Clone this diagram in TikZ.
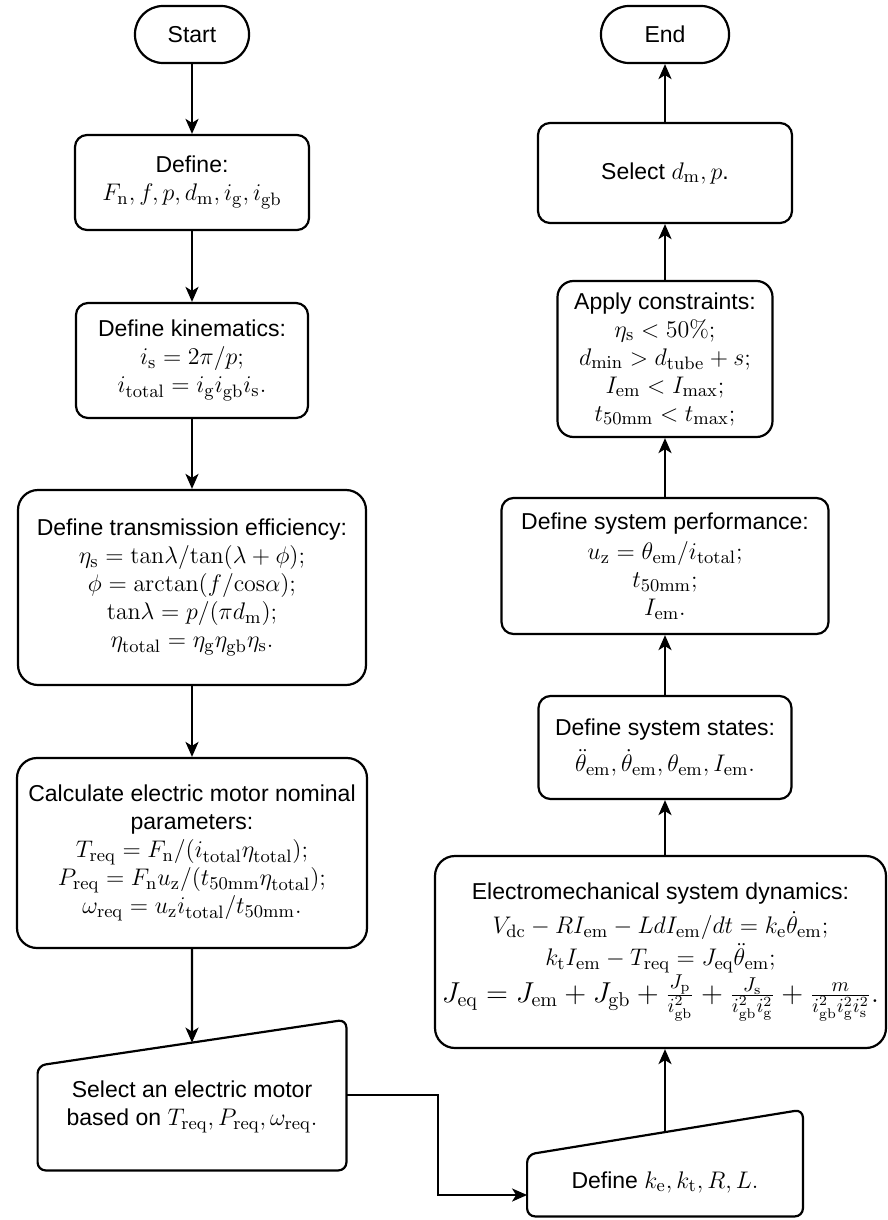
\documentclass[tikz,border=0pt]{standalone}
\usepackage[no-math]{fontspec}
\setmainfont{Liberation Sans}[Scale=0.885]
\usetikzlibrary{arrows.meta,calc}

\tikzset{
  box/.style={draw, line width=1.1pt, rounded corners=6pt, align=center, inner sep=0pt, font=\fontsize{13pt}{14pt}\selectfont},
  bigbox/.style={box, rounded corners=10pt},
  term/.style={box, rounded corners=14pt},
  inshape/.style={inner sep=0pt},
  txt/.style={align=center, inner sep=0pt, font=\fontsize{13pt}{14pt}\selectfont},
  arr/.style={line width=1.1pt, -{Stealth[length=7.5pt,width=6.5pt,inset=2pt]}},
}

\begin{document}
\begin{tikzpicture}[x=0.5pt,y=-0.5pt]
\useasboundingbox (0,0) rectangle (888,1220);
\node[term, minimum width=57pt, minimum height=28.5pt] (start) at (192,34.5) {Start};
\node[box, minimum width=117pt, minimum height=47.5pt] (def) at (192,182.5) {Define:\\ $F_\mathrm{n}, f, p, d_\mathrm{m}, i_\mathrm{g}, i_\mathrm{gb}$};
\node[box, minimum width=116pt, minimum height=57.5pt] (kin) at (192,360.5) {Define kinematics:\\ $i_\mathrm{s} = 2\pi/p;$\\ $i_\mathrm{total} = i_\mathrm{g} i_\mathrm{gb} i_\mathrm{s}.$};
\node[bigbox, minimum width=174pt, minimum height=97.5pt] (eff) at (192,587.5) {Define transmission efficiency:\\ $\eta_\mathrm{s} = \mathrm{tan}\lambda/\mathrm{tan}(\lambda+\phi);$\\ $\phi = \mathrm{arctan}(f/\mathrm{cos}\alpha);$\\ $\mathrm{tan}\lambda = p/(\pi d_\mathrm{m});$\\ $\eta_\mathrm{total} = \eta_\mathrm{g}\eta_\mathrm{gb}\eta_\mathrm{s}.$};
\node[bigbox, minimum width=175pt, minimum height=95pt] (calc) at (192,853) {Calculate electric motor nominal\\ parameters:\\ $T_\mathrm{req} = F_\mathrm{n}/(i_\mathrm{total}\eta_\mathrm{total});$\\ $P_\mathrm{req} = F_\mathrm{n}u_\mathrm{z}/(t_\mathrm{50mm}\eta_\mathrm{total});$\\ $\omega_\mathrm{req} = u_\mathrm{z} i_\mathrm{total}/t_\mathrm{50mm}.$};
\node[inshape, minimum width=154pt, minimum height=75pt] (motor) at (192,1095) {};
\coordinate (motorTL) at ($(motor.north west)+(0,-23pt)$);
\draw[line width=1.1pt, rounded corners=4pt] (motor.south) -- (motor.south west) -- (motorTL) -- (motor.north east) -- (motor.south east) -- cycle;
\node[txt] (motortxt) at (192,1107) {Select an electric motor\\ based on $T_\mathrm{req}, P_\mathrm{req}, \omega_\mathrm{req}.$};
\node[inshape, minimum width=137.5pt, minimum height=53pt] (ke) at (665,1163) {};
\coordinate (keTL) at ($(ke.north west)+(0,-22.5pt)$);
\draw[line width=1.1pt, rounded corners=4pt] (ke.south) -- (ke.south west) -- (keTL) -- (ke.north east) -- (ke.south east) -- cycle;
\node[txt] (ketxt) at (665,1182) {Define $k_\mathrm{e}, k_\mathrm{t}, R, L.$};
\node[bigbox, minimum width=225.5pt, minimum height=96pt] (em) at (660.5,952) {Electromechanical system dynamics:\\[3pt] $V_\mathrm{dc} - RI_\mathrm{em} - LdI_\mathrm{em}/dt = k_\mathrm{e}\dot\theta_\mathrm{em};$\\[1pt] $k_\mathrm{t} I_\mathrm{em} - T_\mathrm{req} = J_\mathrm{eq}\ddot\theta_\mathrm{em};$\\ {\fontsize{14.8pt}{16pt}\selectfont $J_\mathrm{eq} = J_\mathrm{em} + J_\mathrm{gb} + \frac{J_\mathrm{p}}{i_\mathrm{gb}^2} + \frac{J_\mathrm{s}}{i_\mathrm{gb}^2 i_\mathrm{g}^2} + \frac{m}{i_\mathrm{gb}^2 i_\mathrm{g}^2 i_\mathrm{s}^2}.$}};
\node[box, minimum width=126.5pt, minimum height=51.5pt] (states) at (665,747.5) {Define system states:\\[4pt] $\ddot\theta_\mathrm{em}, \dot\theta_\mathrm{em}, \theta_\mathrm{em}, I_\mathrm{em}.$};
\node[box, minimum width=163.5pt, minimum height=68pt] (perf) at (665,566) {Define system performance:\\[1pt] $u_\mathrm{z} = \theta_\mathrm{em}/i_\mathrm{total};$\\ $t_\mathrm{50mm};$\\ $I_\mathrm{em}.$};
\node[box, rounded corners=8pt, minimum width=107.5pt, minimum height=78pt] (cons) at (665,359) {Apply constraints:\\ $\eta_\mathrm{s} < 50\%;$\\ $d_\mathrm{min} > d_\mathrm{tube} + s;$\\ $I_\mathrm{em} < I_\mathrm{max};$\\ $t_\mathrm{50mm} < t_\mathrm{max};$};
\node[box, minimum width=127pt, minimum height=50pt] (seldp) at (665,173) {Select $d_\mathrm{m}, p$.};
\node[term, minimum width=64pt, minimum height=28.5pt] (stop) at (665,34.5) {End};
\draw[arr] (start) -- (def);
\draw[arr] (def) -- (kin);
\draw[arr] (kin) -- (eff);
\draw[arr] (eff) -- (calc);
\draw[arr] (calc.south) -- ($(motorTL)!0.5!(motor.north east)$);
\coordinate (bend) at (438,1195);
\draw[arr] (motor.east) -| (bend) -- (bend -| ke.west);
\coordinate (ketop) at ($(keTL)!0.5!(ke.north east)$);
\draw[arr] (ketop) -- (ketop |- em.south);
\draw[arr] (em.north -| states.south) -- (states.south);
\draw[arr] (states) -- (perf);
\draw[arr] (perf) -- (cons);
\draw[arr] (cons) -- (seldp);
\draw[arr] (seldp) -- (stop);
\end{tikzpicture}
\end{document}
